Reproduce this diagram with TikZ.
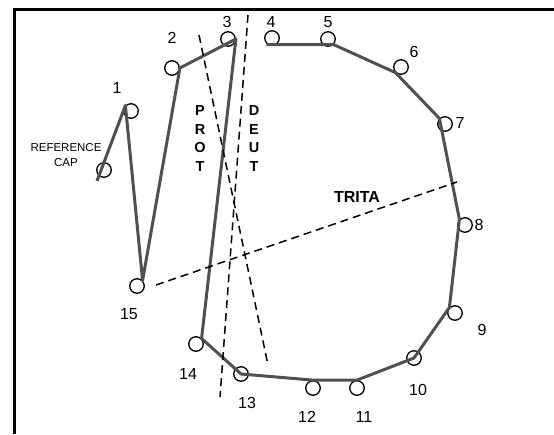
\documentclass[tikz,border=0pt]{standalone}
\usepackage{fontspec}
\setmainfont{Liberation Sans}
\usetikzlibrary{positioning}
\definecolor{traceg}{RGB}{80,80,80}

\begin{document}
\begin{tikzpicture}[x=1pt, y=-1pt,
    dot/.style={circle, draw=black, line width=1.3pt, minimum size=14.5pt, inner sep=0pt},
    num/.style={font=\fontsize{16}{18}\selectfont, inner sep=0pt},
    axis/.style={font=\fontsize{14.5}{16}\bfseries\selectfont, inner sep=0pt},
    trace/.style={traceg, line width=3pt, line join=round},
    confusion/.style={black, line width=1.5pt, dash pattern=on 8pt off 5pt}]
    \useasboundingbox (0,0) rectangle (554,434);
    % frame (top and left edge only)
    \draw[line width=3pt] (14.3,434) -- (14.3,9.5) -- (554,9.5);
    % caps: name/x/y
    \foreach \n/\x/\y in {ref/104/170, 1/131/111, 2/172/68, 3/228/39,
        4/272/38, 5/328/39, 6/401/67, 7/445/124, 8/465/225, 9/455/313,
        10/414/358, 11/357/388, 12/313/388, 13/241/374, 14/196/344, 15/137/286} {
      \node[dot] (c\n) at (\x,\y) {};
    }
    % cap numbers
    \foreach \n/\x/\y in {1/117/88, 2/172/38, 3/227/22, 4/271/22, 5/328/22,
        6/414/52, 7/460/123, 8/479/225, 9/482/330, 10/418/390,
        11/364/417, 12/307/417, 13/247/403, 14/188/374, 15/129/314} {
      \node[num] (l\n) at (\x,\y) {\n};
    }
    \node[font=\fontsize{11.5}{15.5}\selectfont, align=center, inner sep=0pt]
      (lref) at (66,155) {REFERENCE\\CAP};
    % arrangement
    \coordinate (start) at (97,181);
    \draw[trace] (start) -- (c1.north west) -- (c15.north east) -- (c2.east)
      -- (c3.east) -- (c14.north east) -- (c13.center) -- (c12.north)
      -- (c11.north) -- (c10.center) -- (c9.north west) -- (c8.north west)
      -- (c7.north west) -- (c6.south west) -- (c5.south east)
      -- (c4.south west |- c5.south east);
    % confusion axes
    \coordinate (prot1) at (199,35);  \coordinate (prot2) at (268,365);
    \coordinate (deut1) at (248,15);  \coordinate (deut2) at (220,397);
    \coordinate (trit1) at (156,285); \coordinate (trit2) at (457,182);
    \draw[confusion] (prot1) -- (prot2);
    \draw[confusion] (deut1) -- (deut2);
    \draw[confusion] (trit1) -- (trit2);
    \foreach \ch/\y [count=\i] in {P/111, R/130, O/148, T/167} {
      \node[axis] (p\i) at (200,\y) {\ch};
    }
    \foreach \ch/\y [count=\i] in {D/111, E/130, U/148, T/167} {
      \node[axis] (d\i) at (254,\y) {\ch};
    }
    \node[axis, font=\fontsize{16}{18}\bfseries\selectfont] (trita) at (357,197) {TRITA};
\end{tikzpicture}
\end{document}
